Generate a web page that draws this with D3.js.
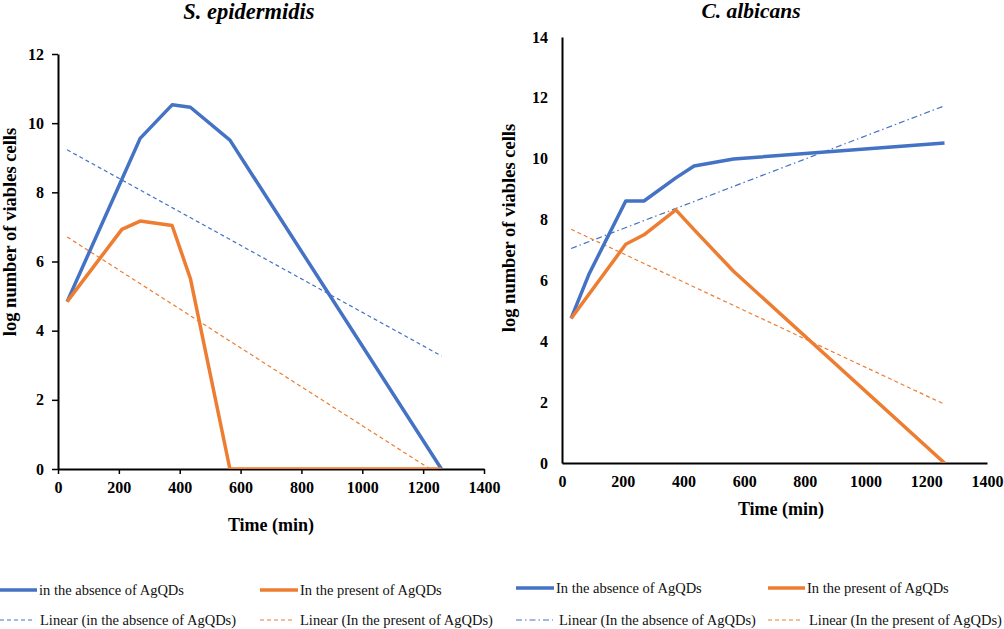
<!DOCTYPE html>
<html><head><meta charset="utf-8">
<script src="https://cdn.jsdelivr.net/npm/d3@7"></script>
<style>
body{margin:0;background:#fff;}
svg{display:block;font-family:"Liberation Serif","Times New Roman",serif;}
svg text{font-family:"Liberation Serif","Times New Roman",serif;}
</style></head>
<body>
<svg id="c" width="1004" height="629"></svg>
<script>
// ---- data ----
const titles = ["S. epidermidis", "C. albicans"];
const xTicks = [0, 200, 400, 600, 800, 1000, 1200, 1400];
const yTicksLeft = [0, 2, 4, 6, 8, 10, 12];
const yTicksRight = [0, 2, 4, 6, 8, 10, 12, 14];

const timeLeft = [30, 210, 270, 375, 435, 565, 1260];
const sepAbsent = [4.84, 8.38, 9.56, 10.53, 10.46, 9.51, 0];
const sepPresent = [4.84, 6.93, 7.17, 7.04, 5.51, 0, 0];
const sepTrendX = [30, 1260];
const sepTrendAbsent = [9.23, 3.27];
const sepTrendPresent = [6.71, -0.21];

const timeRight = [30, 90, 210, 270, 375, 435, 565, 1260];
const calAbsent = [4.75, 6.23, 8.61, 8.61, 9.37, 9.76, 9.99, 10.52];
const calPresent = [4.75, 5.56, 7.19, 7.5, 8.32, 7.67, 6.3, 0];
const calTrendX = [30, 1260];
const calTrendAbsent = [7.05, 11.74];
const calTrendPresent = [7.68, 1.93];

const legendLeft = ["in the absence of AgQDs", "In the present of AgQDs", "Linear (in the absence of AgQDs)", "Linear (In the present of AgQDs)"];
const legendRight = ["In the absence of AgQDs", "In the present of AgQDs", "Linear (In the absence of AgQDs)", "Linear (In the present of AgQDs)"];

const BLUE = "#4472C4", ORANGE = "#ED7D31";
const SERIF = "Liberation Serif";
const svg = d3.select("#c");

function panel(opt) {
  const x = d3.scaleLinear().domain([0, 1400]).range([opt.x0, opt.x1]);
  const y = d3.scaleLinear().domain([0, opt.ymax]).range([opt.y0, opt.y1]);
  const g = svg.append("g");
  const clipId = "clip" + opt.id;
  svg.append("clipPath").attr("id", clipId).append("rect")
    .attr("x", opt.x0).attr("y", opt.y1 - 5).attr("width", opt.x1 - opt.x0).attr("height", opt.y0 - opt.y1 + 5);

  const fmt = d3.format("d");
  const tl = opt.ticks ? 5 : 0;
  const xa = g.append("g").attr("transform", `translate(0,${opt.y0})`)
    .call(d3.axisBottom(x).tickValues(xTicks).tickFormat(fmt).tickSize(tl).tickSizeOuter(0).tickPadding(opt.ticks ? 8 : 13));
  const ya = g.append("g").attr("transform", `translate(${opt.x0},0)`)
    .call(d3.axisLeft(y).tickValues(opt.yTicks).tickFormat(fmt).tickSize(opt.ticks ? 6 : 0).tickSizeOuter(0).tickPadding(opt.ticks ? 8 : 14));
  [xa, ya].forEach(a => {
    a.attr("font-family", SERIF).attr("font-size", 16);
    a.select(".domain").attr("stroke", "#000").attr("stroke-width", 2);
    a.selectAll(".tick line").attr("stroke", "#000").attr("stroke-width", 1.5);
    a.selectAll("text").style("font-family", SERIF).attr("font-weight", "bold")
      .attr("font-size", 16).attr("fill", "#000");
  });

  const line = d3.line().x(d => x(d[0])).y(d => y(d[1]));
  const lg = g.append("g").attr("clip-path", `url(#${clipId})`);
  lg.append("path").attr("d", line(d3.zip(opt.trendX, opt.trendA))).attr("fill", "none")
    .attr("stroke", BLUE).attr("stroke-width", 1.2).attr("stroke-dasharray", opt.dashA);
  lg.append("path").attr("d", line(d3.zip(opt.trendX, opt.trendP))).attr("fill", "none")
    .attr("stroke", ORANGE).attr("stroke-width", 1.2).attr("stroke-dasharray", "4,3");
  lg.append("path").attr("d", line(d3.zip(opt.time, opt.absent))).attr("fill", "none")
    .attr("stroke", BLUE).attr("stroke-width", 3.5).attr("stroke-linejoin", "round");
  lg.append("path").attr("d", line(d3.zip(opt.time, opt.present))).attr("fill", "none")
    .attr("stroke", ORANGE).attr("stroke-width", 3.5).attr("stroke-linejoin", "round");

  g.append("text").attr("x", opt.titleX).attr("y", opt.titleY).attr("text-anchor", "middle")
    .attr("font-size", opt.titleSize).attr("font-weight", "bold").attr("font-style", "italic").text(opt.title);
  g.append("text").attr("x", opt.xtX).attr("y", opt.xtY).attr("text-anchor", "middle")
    .attr("font-size", 18).attr("font-weight", "bold").text("Time (min)");
  g.append("text").attr("transform", `translate(${opt.ytX},${opt.ytY}) rotate(-90)`).attr("text-anchor", "middle")
    .attr("font-size", 18.5).attr("font-weight", "bold").text("log number of viables cells");
}

panel({id: 1, x0: 58, x1: 484, y0: 469, y1: 54, ymax: 12, yTicks: yTicksLeft, ticks: true,
  time: timeLeft, absent: sepAbsent, present: sepPresent, trendX: sepTrendX, trendA: sepTrendAbsent, trendP: sepTrendPresent,
  dashA: "4,3", title: titles[0], titleSize: 22.5, titleX: 249, titleY: 19, xtX: 271, xtY: 531, ytX: 16, ytY: 232});
panel({id: 2, x0: 562, x1: 987, y0: 463, y1: 37, ymax: 14, yTicks: yTicksRight, ticks: false,
  time: timeRight, absent: calAbsent, present: calPresent, trendX: calTrendX, trendA: calTrendAbsent, trendP: calTrendPresent,
  dashA: "6,3,1.5,3", title: titles[1], titleSize: 21.5, titleX: 751, titleY: 18, xtX: 781, xtY: 515, ytX: 515, ytY: 228});

const legItems = [
  {x: 0, y: 590, w: 37, text: legendLeft[0], color: BLUE, sw: 3.5, dash: null},
  {x: 260, y: 590, w: 38, text: legendLeft[1], color: ORANGE, sw: 3.5, dash: null},
  {x: 516, y: 588, w: 38, text: legendRight[0], color: BLUE, sw: 3.5, dash: null},
  {x: 768, y: 588, w: 37, text: legendRight[1], color: ORANGE, sw: 3.5, dash: null},
  {x: 0, y: 620, w: 34, text: legendLeft[2], color: BLUE, sw: 1.2, dash: "4,3"},
  {x: 260, y: 620, w: 34, text: legendLeft[3], color: ORANGE, sw: 1.2, dash: "4,3"},
  {x: 516, y: 620, w: 37, text: legendRight[2], color: BLUE, sw: 1.2, dash: "6,3,1.5,3"},
  {x: 768, y: 620, w: 35, text: legendRight[3], color: ORANGE, sw: 1.2, dash: "4,3"}
];
const lgd = svg.append("g");
legItems.forEach(d => {
  lgd.append("line").attr("x1", d.x).attr("x2", d.x + d.w).attr("y1", d.y).attr("y2", d.y)
    .attr("stroke", d.color).attr("stroke-width", d.sw).attr("stroke-dasharray", d.dash);
  lgd.append("text").attr("x", d.x + d.w + (d.dash ? 6 : 2)).attr("y", d.y + 5).attr("font-size", 14.5)
    .attr("fill", "#111").text(d.text);
});
</script>
</body></html>
